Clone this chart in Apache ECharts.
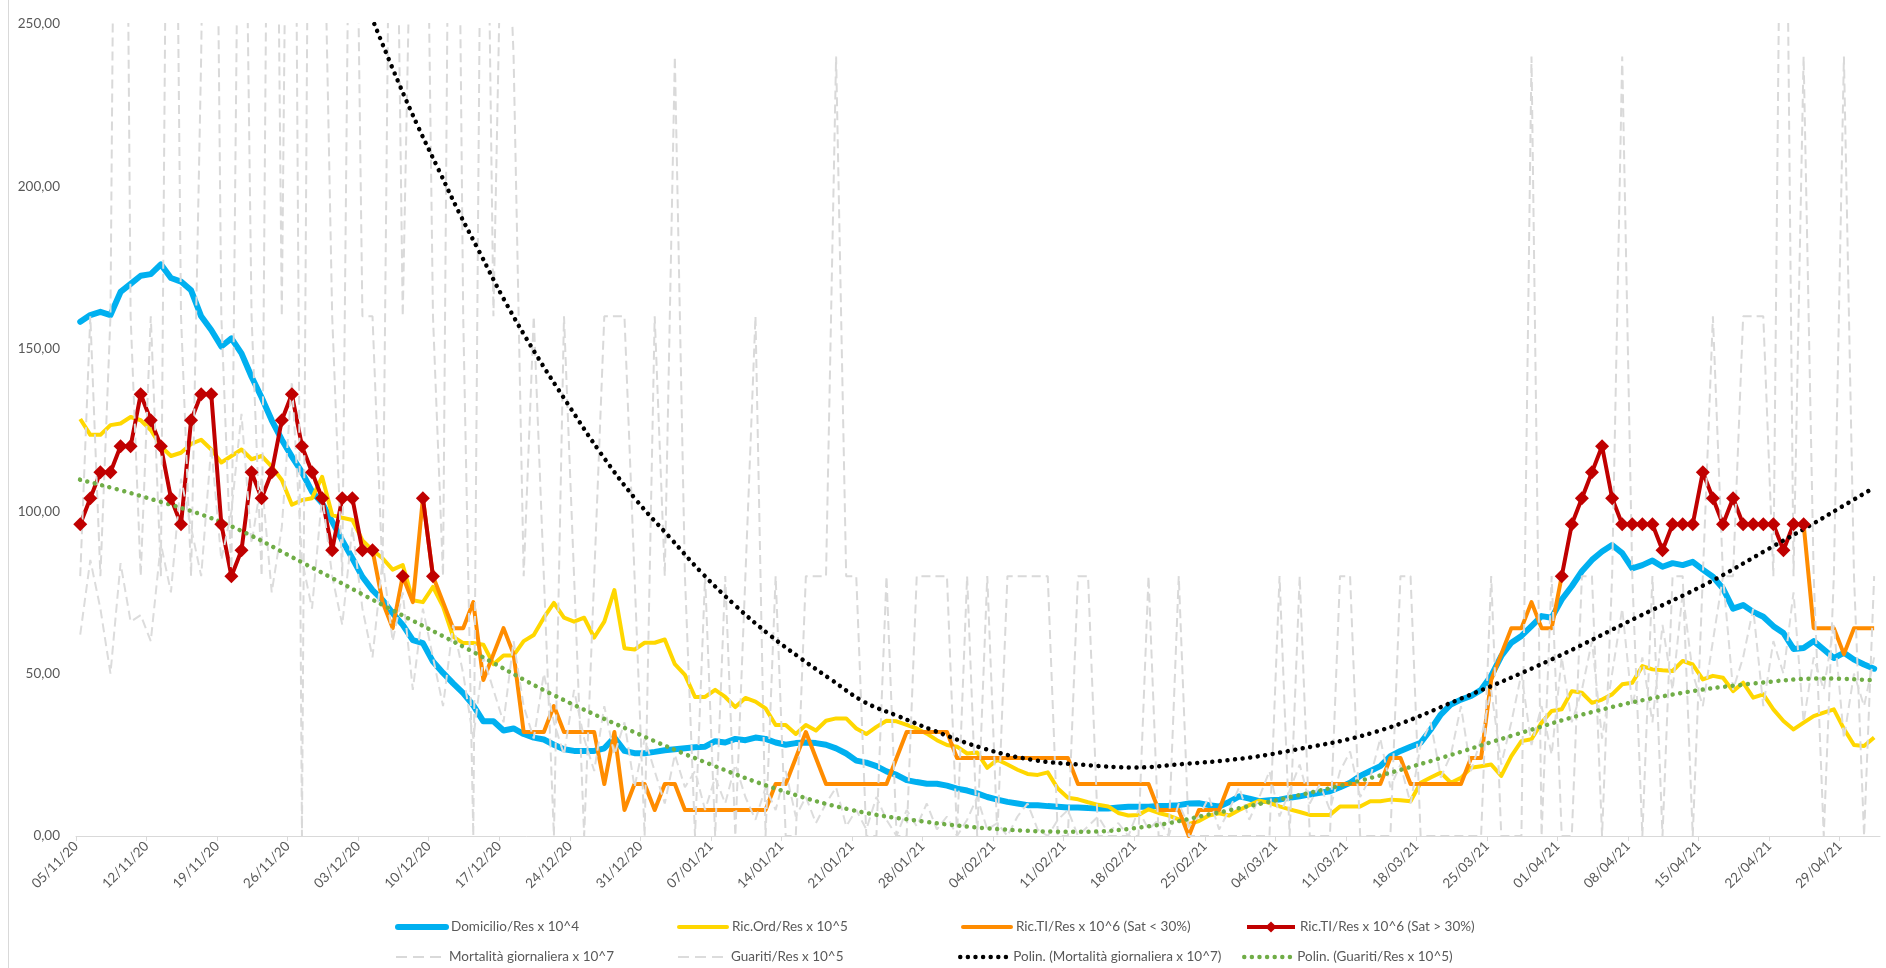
<!DOCTYPE html>
<html><head><meta charset="utf-8">
<script src="https://cdn.jsdelivr.net/npm/echarts@6.0.0/dist/echarts.min.js"></script>
<style>html,body{margin:0;padding:0;background:#fff;}#chart{width:1886px;height:968px;}</style>
</head><body><div id="chart"></div>
<script>
// x-axis tick labels (one every 7 days, starting 05/11/20 = day 0)
const tickLabels = ['05/11/20','12/11/20','19/11/20','26/11/20','03/12/20','10/12/20','17/12/20','24/12/20','31/12/20','07/01/21','14/01/21','21/01/21','28/01/21','04/02/21','11/02/21','18/02/21','25/02/21','04/03/21','11/03/21','18/03/21','25/03/21','01/04/21','08/04/21','15/04/21','22/04/21','29/04/21'];

// daily values, day 0 = 05/11/20 ... day 178 = 02/05/21
const domicilio = [158.3,160.4,161.4,160.4,167.5,170,172.5,173,176,171.8,170.7,168,160,155.8,150.7,153.2,148.6,141.4,135,128,122,116.8,112,106,102.5,96.8,91,85.5,79.8,75.7,72.6,68.6,65,60.3,59.4,53.7,50.2,47,44,40.2,35.3,35.3,32.5,33.1,31.4,30.3,29.7,28.1,26.7,26.2,26.2,26.2,27,30.3,26.2,25.5,25.5,25.9,26.4,26.7,27,27.3,27.5,29.2,28.8,29.9,29.5,30.3,29.9,28.8,28.1,28.6,28.8,28.6,28.1,27,25.4,23.2,22.6,21.5,19.9,18.8,17.2,16.6,16.1,16.1,15.5,14.6,14,13.1,12,11.2,10.5,10,9.5,9.5,9.2,9,8.8,8.8,8.6,8.5,8.5,8.8,9,9,9,9.2,9.3,9.5,10,10.1,9.5,9.1,10.5,12.2,11.5,10.7,11,11.2,11.8,12.2,12.8,13.3,13.8,15,16.4,18.5,20,21.5,24.6,26.2,27.5,28.7,32.8,37.4,40.5,42,43.1,45,49.3,55.4,59.5,61.6,64.6,67.7,67.2,72.8,76.9,81.5,85,87.6,89.6,87.1,82.4,83.4,84.8,82.9,84,83.4,84.4,82,79.8,76.2,70,71.1,69,67.5,64.6,62.5,57.6,57.9,60,57.4,54.8,56.4,54.3,52.8,51.5];
const ricOrd = [128.4,123.5,123.5,126.5,127,129,128,125,120,117,118,120.7,122,119,115,117,119,116,117,113.7,109.6,102,103.4,104,110.6,98.8,98,97.3,91,88,85.5,82,83.4,72.6,72,76.7,70.6,61.4,59.4,59.4,58.9,52.9,55.6,55.6,60,61.9,67.2,71.8,67.2,66,67.2,61.1,66,75.7,57.8,57.4,59.5,59.5,60.5,52.9,49.6,42.8,42.8,45,42.8,39.7,42.5,41.4,39.3,34.2,34.2,31.4,34.2,32.5,35.5,36.2,36.2,33.1,31.4,33.6,35.5,35.3,34.2,33.1,31.5,29.5,28,27.5,25.4,25.7,21,23.5,22,20.4,19.1,18.8,19.6,14.6,11.8,11.3,10.4,9.6,9.1,7.1,6.3,6.5,8.2,7.1,6.3,5.1,3.7,4.6,6.3,7,6.3,8,9.5,10.9,10.2,9.1,8.2,7.4,6.5,6.5,6.5,9.1,9.1,9.1,10.7,10.7,11.2,11,10.7,16.4,18,19.5,16.4,17.9,21,21.5,22,18.5,24.6,29.2,29.8,34.9,38.5,39,44.6,44.1,41,42,43.6,46.7,47.2,52.3,51.3,51,50.8,53.9,52.8,48.2,49.3,48.7,44.6,47.2,42.6,43.6,39,35.4,32.8,34.9,36.9,38,39,33,28,27.7,30.3];
const ricTiLow = [null,null,null,null,null,null,null,null,null,null,null,null,null,null,null,null,null,null,null,null,null,null,null,null,null,null,null,null,null,88,72,64,80,72,104,80,72,64,64,72,48,56,64,56,32,32,32,40,32,32,32,32,16,32,8,16,16,8,16,16,8,8,8,8,8,8,8,8,8,16,16,24,32,24,16,16,16,16,16,16,16,24,32,32,32,32,32,24,24,24,24,24,24,24,24,24,24,24,24,16,16,16,16,16,16,16,16,8,8,8,0,8,8,8,16,16,16,16,16,16,16,16,16,16,16,16,16,16,16,16,24,24,16,16,16,16,16,16,24,24,48,56,64,64,72,64,64,80,null,null,null,null,null,null,null,null,null,null,null,null,null,null,null,null,null,null,null,null,null,null,null,96,64,64,64,56,64,64,64];
const ricTiHigh = [96,104,112,112,120,120,136,128,120,104,96,128,136,136,96,80,88,112,104,112,128,136,120,112,104,88,104,104,88,88,null,null,80,null,104,80,null,null,null,null,null,null,null,null,null,null,null,null,null,null,null,null,null,null,null,null,null,null,null,null,null,null,null,null,null,null,null,null,null,null,null,null,null,null,null,null,null,null,null,null,null,null,null,null,null,null,null,null,null,null,null,null,null,null,null,null,null,null,null,null,null,null,null,null,null,null,null,null,null,null,null,null,null,null,null,null,null,null,null,null,null,null,null,null,null,null,null,null,null,null,null,null,null,null,null,null,null,null,null,null,null,null,null,null,null,null,null,80,96,104,112,120,104,96,96,96,96,88,96,96,96,112,104,96,104,96,96,96,96,88,96,96,null,null,null,null,null,null,null];
const mortalita = [80,160,80,160,560,160,80,160,80,480,160,80,240,480,160,80,400,160,80,480,160,480,0,480,320,160,80,400,160,160,80,400,160,320,400,160,80,480,160,0,400,160,320,240,80,160,80,0,160,80,0,80,160,160,160,80,0,160,80,240,80,0,80,0,80,0,80,160,0,80,0,0,80,80,80,240,80,80,0,0,80,0,0,80,80,80,80,0,80,0,80,0,80,80,80,80,80,0,0,80,80,0,0,0,0,0,80,0,0,80,0,0,0,0,0,0,0,0,0,80,0,80,0,0,0,80,80,0,0,0,0,80,80,0,0,0,0,0,0,0,80,0,0,0,240,0,80,0,0,80,80,0,80,240,80,0,80,0,80,80,0,80,160,80,80,160,160,160,80,400,80,240,80,0,80,240,80,0,80];
const guariti = [62,85,70,50,84,66,68,60,90,75,110,95,80,120,85,100,130,90,110,75,95,140,85,70,105,80,65,95,70,55,85,60,75,45,70,55,40,65,50,30,55,45,35,60,40,30,50,35,25,45,30,20,40,25,35,15,30,20,10,25,15,20,8,18,10,22,12,5,15,8,20,6,12,4,10,15,3,8,2,12,5,0,8,3,10,2,6,0,5,12,2,4,0,6,10,2,0,5,8,0,3,6,1,4,0,8,2,5,0,10,3,6,12,2,8,15,5,12,20,6,14,22,10,16,8,20,26,12,18,30,15,22,10,28,35,18,25,40,20,30,45,22,35,50,28,40,25,55,35,45,60,30,50,70,40,55,35,65,45,75,50,40,60,80,45,55,70,40,60,50,75,35,55,45,65,30,50,40,55];

// polynomial trend lines (day position, value)
const trendMortDays = [29.6,32,34,36,38,40,42.5,45.6,48.8,52.1,55.6,58.9,62.1,65.4,68.9,72,75,78.2,81.5,85,90,95,100,105,110,115,120,129,137.5,146.3,155,162,168,172,175,178];
const trendMortValues = [250,232,218,205,192,180,165,148.5,133,117.7,103.4,92,81,71,61.7,54.5,48,41.3,37,32.6,27,23.4,21.9,21.1,22.2,23.6,26,32.1,42.4,54.2,67.5,78,88.5,95.5,101,106.5];
const trendGuarDays = [0.4,6.4,14.6,22.7,30.8,38.9,47,55,63,70,77,84,91.6,99.4,106.5,113,119.8,127.5,135.2,142.9,150.6,158.3,166,173.7,178];
const trendGuarValues = [109.7,104.7,96.4,83.8,70.5,57.5,44,32.5,22,14,8,4.5,2.1,1.3,3,7,11.5,17.1,23.8,31.3,38.3,43.5,46.8,48.5,48];

const X_OFFSET = 0.42;
const toPairs = arr => arr.map((v, i) => [i + X_OFFSET, v == null ? '-' : v]);
const zipPairs = (xs, ys) => xs.map((x, i) => [x, ys[i]]);
const tickDays = tickLabels.map((_, i) => i * 7);

const FONT = 'Lato';
const FS = 13.5;
const TXT = '#595959';

const names = {
  dom: 'Domicilio/Res x 10^4',
  ord: 'Ric.Ord/Res x 10^5',
  tiL: 'Ric.TI/Res x 10^6 (Sat < 30%)',
  tiH: 'Ric.TI/Res x 10^6 (Sat > 30%)',
  mor: 'Mortalità giornaliera x 10^7',
  gua: 'Guariti/Res x 10^5',
  pm: 'Polin. (Mortalità giornaliera x 10^7)',
  pg: 'Polin. (Guariti/Res x 10^5)'
};

const dotStyle = (color) => ({ color, width: 4.5, type: [0.01, 7.6], cap: 'round' });

function leg(name, left, top, lineStyle, keepSymbol) {
  return {
    data: [name], left, top, padding: 0, itemWidth: 48, itemHeight: 14,
    selectedMode: false,
    textStyle: { color: TXT, fontSize: FS, fontFamily: FONT },
    lineStyle,
    itemStyle: keepSymbol ? {} : { opacity: 0 }
  };
}

const chart = echarts.init(document.getElementById('chart'), null, { renderer: 'canvas' });
chart.setOption({
  animation: false,
  backgroundColor: '#fff',
  grid: { left: 76, top: 24, width: 1804, height: 812 },
  xAxis: {
    type: 'value', min: 0, max: 179,
    axisLine: { show: true, lineStyle: { color: '#D9D9D9', width: 1 } },
    axisTick: { show: true, length: 5, lineStyle: { color: '#D9D9D9' }, customValues: tickDays },
    axisLabel: {
      customValues: tickDays, rotate: 45, margin: 8,
      color: TXT, fontSize: FS, fontFamily: FONT,
      formatter: v => tickLabels[Math.round(v / 7)] || ''
    },
    splitLine: { show: false }
  },
  yAxis: {
    type: 'value', min: 0, max: 250, interval: 50,
    axisLine: { show: false }, axisTick: { show: false },
    splitLine: { show: false },
    axisLabel: { color: TXT, fontSize: FS, fontFamily: FONT, margin: 16,
      formatter: v => v.toFixed(2).replace('.', ',') }
  },
  legend: [
    leg(names.dom, 395, 920, { width: 6, cap: 'round' }),
    leg(names.ord, 677, 920, { width: 4, cap: 'round' }),
    leg(names.tiL, 961, 920, { width: 4, cap: 'round' }),
    leg(names.tiH, 1245, 920, { width: 4 }, true),
    leg(names.mor, 395, 950, { width: 2, type: [11, 6] }),
    leg(names.gua, 677, 950, { width: 2, type: [11, 6] }),
    leg(names.pm, 958, 950, { width: 4.5, type: [0.01, 7.6], cap: 'round' }),
    leg(names.pg, 1242, 950, { width: 4.5, type: [0.01, 7.6], cap: 'round' })
  ],
  graphic: [{ type: 'line', shape: { x1: 8.5, y1: 0, x2: 8.5, y2: 968 }, style: { stroke: '#D9D9D9', lineWidth: 1 }, silent: true }],
  series: [
    { name: names.dom, type: 'line', data: toPairs(domicilio), symbol: 'none',
      lineStyle: { color: '#00B0F0', width: 6, join: 'round', cap: 'round' }, itemStyle: { color: '#00B0F0' } },
    { name: names.ord, type: 'line', data: toPairs(ricOrd), symbol: 'none',
      lineStyle: { color: '#FFD700', width: 4, join: 'round' }, itemStyle: { color: '#FFD700' } },
    { name: names.tiL, type: 'line', data: toPairs(ricTiLow), symbol: 'none',
      lineStyle: { color: '#FF8C00', width: 4, join: 'round' }, itemStyle: { color: '#FF8C00' } },
    { name: names.tiH, type: 'line', data: toPairs(ricTiHigh), symbol: 'diamond', symbolSize: 14, showSymbol: true,
      lineStyle: { color: '#C00000', width: 4, join: 'round' }, itemStyle: { color: '#C00000' } },
    { name: names.mor, type: 'line', data: toPairs(mortalita), symbol: 'none',
      lineStyle: { color: '#D9D9D9', width: 2, type: [9, 5] }, itemStyle: { color: '#D9D9D9' } },
    { name: names.gua, type: 'line', data: toPairs(guariti), symbol: 'none',
      lineStyle: { color: '#DCDCDC', width: 2, type: [9, 5] }, itemStyle: { color: '#DCDCDC' } },
    { name: names.pm, type: 'line', data: zipPairs(trendMortDays, trendMortValues), symbol: 'none', smooth: 0.4,
      lineStyle: dotStyle('#000000'), itemStyle: { color: '#000000' } },
    { name: names.pg, type: 'line', data: zipPairs(trendGuarDays, trendGuarValues), symbol: 'none', smooth: 0.4,
      lineStyle: dotStyle('#70AD47'), itemStyle: { color: '#70AD47' } }
  ]
});
</script></body></html>
